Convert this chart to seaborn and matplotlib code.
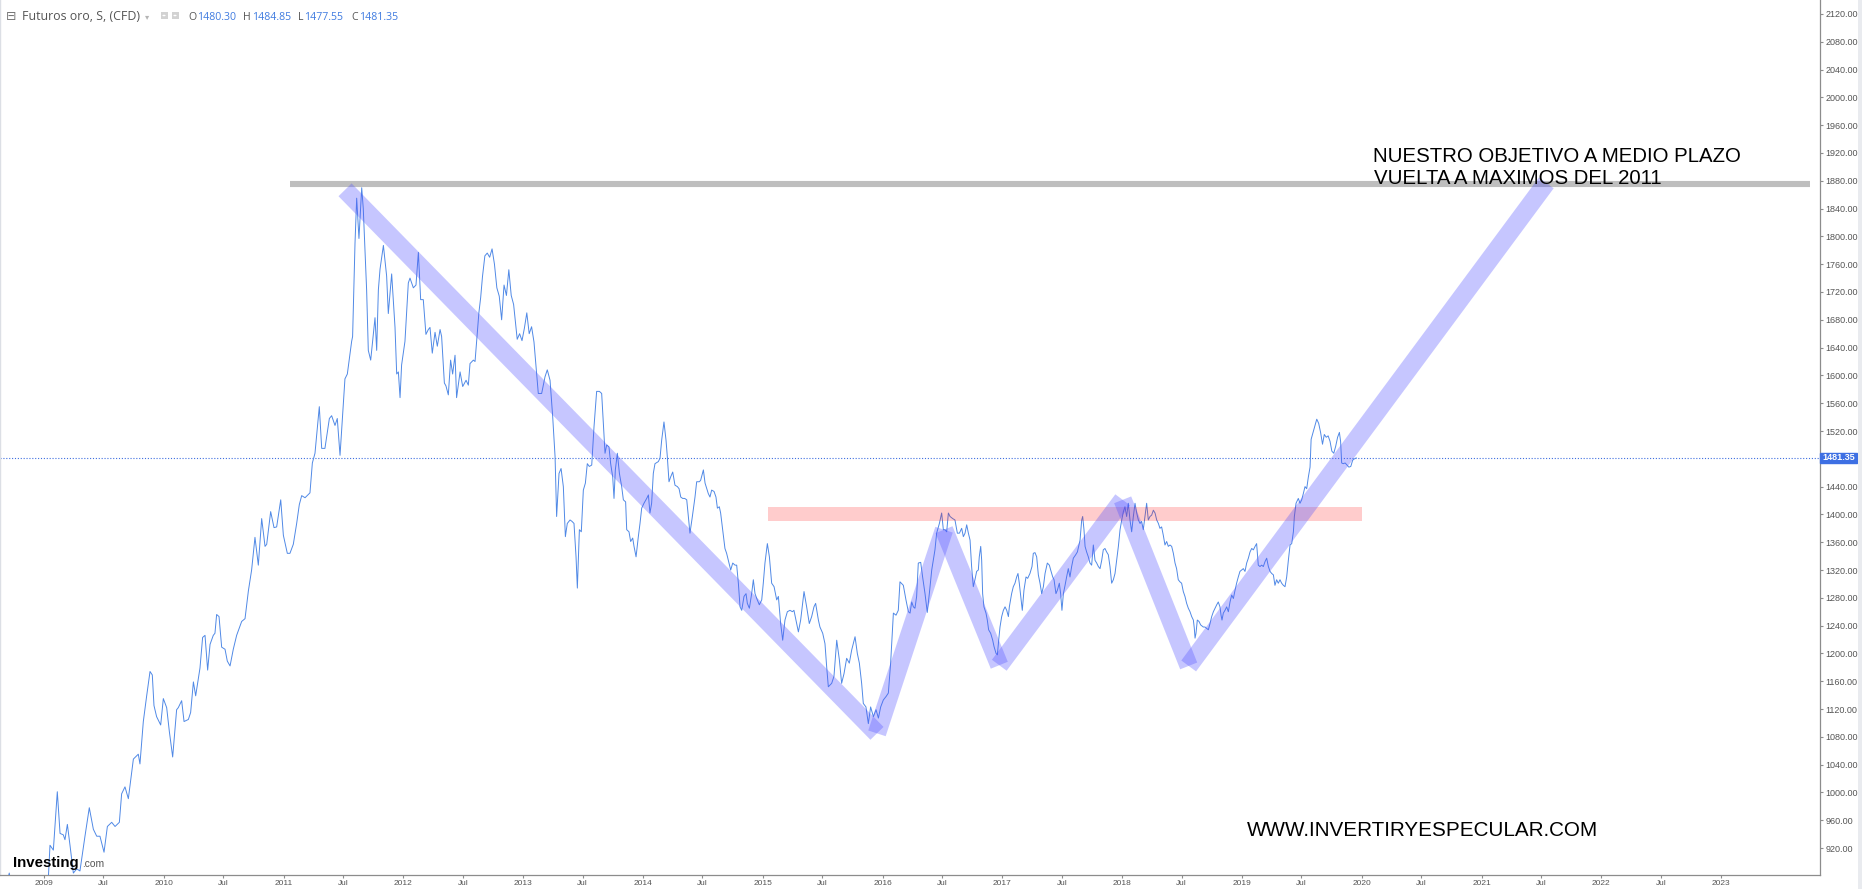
import matplotlib
matplotlib.use("Agg")
import matplotlib.pyplot as plt
import matplotlib.transforms as mtransforms
from matplotlib.patches import Rectangle
import pandas as pd
import seaborn as sns

# ---------------- data (decimal years / price) ----------------
t_2009_2012 = [2008.69, 2008.71, 2008.73, 2008.90, 2009.02, 2009.036, 2009.050, 2009.078, 2009.111, 2009.134,
               2009.161, 2009.175, 2009.195, 2009.217, 2009.245, 2009.273, 2009.300, 2009.342, 2009.378, 2009.412,
               2009.440, 2009.467, 2009.501, 2009.529, 2009.565, 2009.593, 2009.629, 2009.648, 2009.676, 2009.704,
               2009.746, 2009.787, 2009.801, 2009.829, 2009.857, 2009.885, 2009.904, 2009.918, 2009.940, 2009.974,
               2009.996, 2010.024, 2010.046, 2010.074, 2010.107, 2010.121, 2010.149, 2010.169, 2010.205, 2010.224,
               2010.247, 2010.266, 2010.302, 2010.324, 2010.344, 2010.366, 2010.386, 2010.413, 2010.427, 2010.441,
               2010.461, 2010.483, 2010.511, 2010.530, 2010.553, 2010.580, 2010.608, 2010.650, 2010.678, 2010.706,
               2010.733, 2010.761, 2010.789, 2010.817, 2010.845, 2010.859, 2010.892, 2010.920, 2010.942, 2010.976,
               2010.998, 2011.031, 2011.053, 2011.081, 2011.109, 2011.131, 2011.151, 2011.179, 2011.220, 2011.240,
               2011.262, 2011.298, 2011.318, 2011.345, 2011.382, 2011.401, 2011.429, 2011.448, 2011.471, 2011.498,
               2011.512, 2011.532, 2011.568, 2011.576, 2011.596, 2011.610, 2011.629, 2011.652, 2011.665, 2011.693,
               2011.707, 2011.727, 2011.763, 2011.777, 2011.791, 2011.805, 2011.833, 2011.860, 2011.874, 2011.902,
               2011.930, 2011.944, 2011.958, 2011.972, 2011.985, 2012.013, 2012.041, 2012.055, 2012.083, 2012.105,
               2012.125, 2012.144, 2012.166, 2012.188, 2012.208, 2012.222, 2012.241, 2012.264, 2012.283, 2012.306,
               2012.319, 2012.342, 2012.355, 2012.375, 2012.394, 2012.411, 2012.431, 2012.444]
p_2009_2012 = [870, 884, 860, 800, 862, 876, 924, 917, 1001, 941,
               939, 932, 954, 924, 884, 890, 887, 937, 978, 947,
               937, 937, 914, 951, 957, 951, 957, 998, 1008, 991,
               1048, 1055, 1041, 1102, 1139, 1174, 1169, 1125, 1109, 1097,
               1135, 1122, 1088, 1051, 1119, 1122, 1132, 1102, 1105, 1115,
               1159, 1139, 1179, 1223, 1226, 1176, 1213, 1226, 1229, 1256,
               1253, 1209, 1206, 1189, 1182, 1206, 1226, 1246, 1250, 1290,
               1320, 1367, 1327, 1394, 1354, 1357, 1404, 1381, 1382, 1421,
               1370, 1344, 1344, 1357, 1387, 1414, 1427, 1424, 1431, 1474,
               1488, 1555, 1495, 1495, 1538, 1542, 1528, 1538, 1485, 1558,
               1595, 1602, 1649, 1656, 1790, 1855, 1797, 1870, 1840, 1723,
               1636, 1622, 1683, 1636, 1723, 1753, 1787, 1743, 1689, 1746,
               1669, 1602, 1605, 1568, 1615, 1649, 1733, 1740, 1726, 1730,
               1777, 1709, 1709, 1659, 1666, 1669, 1632, 1662, 1642, 1666,
               1656, 1589, 1585, 1572, 1622, 1602, 1629, 1568]

t_2012_2013 = [2012.473, 2012.495, 2012.523, 2012.542, 2012.556, 2012.584, 2012.598, 2012.612,
               2012.630, 2012.645, 2012.660, 2012.680, 2012.700, 2012.720, 2012.740, 2012.760, 2012.780,
               2012.800, 2012.820, 2012.840, 2012.860, 2012.880, 2012.900, 2012.920, 2012.940, 2012.950,
               2012.970, 2012.990, 2013.010, 2013.030, 2013.050, 2013.070, 2013.090]
p_2012_2013 = [1605, 1584, 1593, 1586, 1617, 1622, 1620, 1651,
               1690, 1712, 1742, 1772, 1776, 1770, 1782, 1760, 1726,
               1714, 1680, 1730, 1715, 1752, 1715, 1702, 1668, 1652,
               1660, 1650, 1668, 1690, 1660, 1670, 1648]

t_2013_2016 = [2013.112, 2013.126, 2013.154, 2013.182, 2013.201, 2013.224, 2013.246, 2013.266, 2013.279, 2013.299,
               2013.316, 2013.335, 2013.352, 2013.368, 2013.391, 2013.407, 2013.424, 2013.441, 2013.452, 2013.469,
               2013.485, 2013.502, 2013.519, 2013.535, 2013.552, 2013.572, 2013.591, 2013.613, 2013.636, 2013.655,
               2013.669, 2013.683, 2013.697, 2013.716, 2013.730, 2013.747, 2013.758, 2013.769, 2013.786, 2013.803,
               2013.822, 2013.836, 2013.855, 2013.864, 2013.883, 2013.897, 2013.914, 2013.925, 2013.942, 2013.961,
               2013.975, 2013.989, 2014.008, 2014.031, 2014.045, 2014.058, 2014.072, 2014.086, 2014.100, 2014.128,
               2014.142, 2014.156, 2014.175, 2014.192, 2014.203, 2014.217, 2014.231, 2014.248, 2014.267, 2014.287,
               2014.301, 2014.315, 2014.331, 2014.348, 2014.365, 2014.392, 2014.412, 2014.434, 2014.448, 2014.470,
               2014.481, 2014.504, 2014.518, 2014.532, 2014.545, 2014.559, 2014.573, 2014.593, 2014.609, 2014.621,
               2014.637, 2014.648, 2014.665, 2014.684, 2014.698, 2014.712, 2014.732, 2014.749, 2014.768, 2014.782,
               2014.796, 2014.810, 2014.824, 2014.843, 2014.860, 2014.871, 2014.888, 2014.907, 2014.921, 2014.935,
               2014.954, 2014.971, 2014.991, 2015.004, 2015.018, 2015.038, 2015.055, 2015.074, 2015.094, 2015.116,
               2015.130, 2015.149, 2015.166, 2015.185, 2015.205, 2015.227, 2015.247, 2015.260, 2015.277, 2015.297,
               2015.316, 2015.344, 2015.366, 2015.388, 2015.408, 2015.427, 2015.441, 2015.464, 2015.477, 2015.500,
               2015.519, 2015.533, 2015.547, 2015.575, 2015.594, 2015.617, 2015.639, 2015.658, 2015.678, 2015.700,
               2015.722, 2015.742, 2015.770, 2015.789, 2015.806, 2015.825, 2015.839, 2015.861, 2015.881, 2015.900,
               2015.923, 2015.945, 2015.965, 2015.984, 2016.006, 2016.029, 2016.048, 2016.067, 2016.090, 2016.112,
               2016.131]
p_2013_2016 = [1603, 1574, 1574, 1598, 1608, 1593, 1541, 1483, 1397, 1459,
               1466, 1440, 1368, 1387, 1392, 1390, 1387, 1339, 1294, 1378,
               1375, 1435, 1445, 1473, 1469, 1471, 1526, 1577, 1577, 1574,
               1531, 1488, 1500, 1497, 1473, 1454, 1423, 1464, 1488, 1459,
               1440, 1421, 1418, 1378, 1375, 1361, 1366, 1354, 1339, 1368,
               1387, 1409, 1416, 1423, 1428, 1402, 1416, 1459, 1473, 1476,
               1481, 1507, 1533, 1507, 1483, 1447, 1454, 1461, 1442, 1440,
               1437, 1425, 1423, 1423, 1421, 1373, 1397, 1425, 1447, 1447,
               1449, 1464, 1445, 1437, 1430, 1425, 1435, 1433, 1425, 1409,
               1411, 1402, 1378, 1351, 1344, 1334, 1320, 1330, 1327, 1327,
               1301, 1267, 1262, 1282, 1286, 1272, 1265, 1286, 1306, 1286,
               1277, 1270, 1277, 1301, 1330, 1358, 1339, 1301, 1296, 1277,
               1282, 1243, 1219, 1248, 1260, 1262, 1260, 1262, 1248, 1231,
               1248, 1289, 1267, 1243, 1253, 1267, 1272, 1248, 1238, 1229,
               1214, 1181, 1152, 1157, 1167, 1219, 1191, 1157, 1171, 1193,
               1186, 1205, 1224, 1200, 1186, 1157, 1128, 1123, 1099, 1123,
               1109, 1119, 1107, 1123, 1133, 1138, 1143, 1186, 1258, 1255,
               1262]

t_2016_2019 = [2016.145, 2016.173, 2016.195, 2016.215, 2016.229, 2016.243, 2016.257, 2016.270, 2016.284, 2016.298,
               2016.318, 2016.334, 2016.354, 2016.373, 2016.390, 2016.410, 2016.437, 2016.451, 2016.474, 2016.493,
               2016.507, 2016.521, 2016.535, 2016.549, 2016.563, 2016.585, 2016.604, 2016.624, 2016.641, 2016.660,
               2016.674, 2016.688, 2016.702, 2016.716, 2016.730, 2016.743, 2016.757, 2016.771, 2016.785, 2016.799,
               2016.807, 2016.819, 2016.827, 2016.835, 2016.846, 2016.863, 2016.874, 2016.885, 2016.902, 2016.919,
               2016.930, 2016.947, 2016.958, 2016.969, 2016.980, 2016.994, 2017.008, 2017.022, 2017.036, 2017.050,
               2017.058, 2017.077, 2017.091, 2017.105, 2017.119, 2017.130, 2017.141, 2017.152, 2017.166, 2017.180,
               2017.197, 2017.211, 2017.230, 2017.247, 2017.258, 2017.272, 2017.286, 2017.300, 2017.314, 2017.328,
               2017.342, 2017.356, 2017.375, 2017.392, 2017.403, 2017.420, 2017.431, 2017.447, 2017.459, 2017.475,
               2017.486, 2017.497, 2017.509, 2017.523, 2017.536, 2017.550, 2017.564, 2017.578, 2017.592, 2017.612,
               2017.626, 2017.648, 2017.662, 2017.670, 2017.681, 2017.690, 2017.703, 2017.717, 2017.731, 2017.745,
               2017.759, 2017.773, 2017.787, 2017.801, 2017.815, 2017.829, 2017.842, 2017.856, 2017.870, 2017.884,
               2017.898, 2017.912, 2017.926, 2017.940, 2017.954, 2017.968, 2017.982, 2017.996, 2018.010, 2018.023,
               2018.037, 2018.051, 2018.065, 2018.079, 2018.093, 2018.107, 2018.121, 2018.135, 2018.149, 2018.162,
               2018.176, 2018.190, 2018.204, 2018.218, 2018.232, 2018.246, 2018.260, 2018.274, 2018.288, 2018.302,
               2018.315, 2018.329, 2018.343, 2018.357, 2018.371, 2018.385, 2018.399, 2018.413, 2018.427, 2018.441,
               2018.454, 2018.468, 2018.482, 2018.496, 2018.510, 2018.524, 2018.538, 2018.552, 2018.566, 2018.580,
               2018.594, 2018.602, 2018.608, 2018.616, 2018.627, 2018.641, 2018.655, 2018.677, 2018.691, 2018.705,
               2018.719, 2018.733, 2018.747, 2018.761, 2018.775, 2018.789, 2018.802, 2018.816, 2018.825, 2018.833,
               2018.844, 2018.858, 2018.872, 2018.886, 2018.900, 2018.914, 2018.928, 2018.942, 2018.955, 2018.969,
               2018.983, 2018.997, 2019.011, 2019.025, 2019.039, 2019.053, 2019.067, 2019.081, 2019.095, 2019.109,
               2019.122, 2019.136, 2019.150, 2019.164, 2019.178, 2019.192, 2019.206, 2019.220, 2019.234, 2019.248,
               2019.262, 2019.275, 2019.289, 2019.303, 2019.317, 2019.331, 2019.345, 2019.359, 2019.373, 2019.387,
               2019.401, 2019.415, 2019.429, 2019.437, 2019.451, 2019.470, 2019.484, 2019.498, 2019.512, 2019.526,
               2019.540, 2019.554]
p_2016_2019 = [1303, 1298, 1277, 1260, 1258, 1274, 1267, 1265, 1282, 1330,
               1331, 1310, 1286, 1259, 1286, 1320, 1349, 1373, 1387, 1402,
               1378, 1378, 1375, 1402, 1397, 1394, 1392, 1373, 1373, 1380,
               1368, 1373, 1385, 1373, 1363, 1325, 1296, 1306, 1318, 1320,
               1339, 1354, 1334, 1286, 1267, 1258, 1248, 1234, 1229, 1219,
               1210, 1200, 1198, 1219, 1238, 1253, 1262, 1267, 1262, 1253,
               1267, 1286, 1296, 1301, 1310, 1315, 1301, 1284, 1262, 1291,
               1310, 1308, 1315, 1325, 1344, 1345, 1339, 1313, 1301, 1286,
               1296, 1315, 1330, 1327, 1320, 1310, 1306, 1286, 1291, 1301,
               1286, 1262, 1286, 1298, 1310, 1322, 1310, 1325, 1337, 1342,
               1346, 1363, 1392, 1397, 1378, 1354, 1346, 1339, 1330, 1327,
               1356, 1334, 1330, 1325, 1322, 1334, 1349, 1351, 1346, 1342,
               1325, 1301, 1306, 1315, 1334, 1354, 1378, 1392, 1404, 1411,
               1397, 1416, 1392, 1375, 1397, 1416, 1402, 1392, 1387, 1390,
               1378, 1397, 1416, 1392, 1397, 1399, 1406, 1402, 1392, 1387,
               1380, 1382, 1370, 1356, 1361, 1354, 1356, 1354, 1344, 1330,
               1322, 1306, 1303, 1301, 1289, 1282, 1272, 1265, 1260, 1253,
               1248, 1236, 1222, 1229, 1248, 1246, 1241, 1238, 1238, 1236,
               1234, 1243, 1253, 1260, 1265, 1270, 1274, 1267, 1255, 1248,
               1258, 1262, 1267, 1260, 1274, 1284, 1279, 1291, 1301, 1310,
               1318, 1320, 1322, 1318, 1330, 1337, 1346, 1351, 1349, 1354,
               1358, 1327, 1325, 1327, 1325, 1332, 1337, 1325, 1318, 1315,
               1313, 1298, 1306, 1301, 1306, 1301, 1298, 1296, 1310, 1334,
               1356, 1358, 1375, 1397, 1416, 1423, 1416, 1421, 1430, 1440,
               1437, 1454]

t_2019_fin = [2019.568, 2019.577, 2019.609, 2019.624, 2019.640, 2019.656, 2019.672, 2019.687, 2019.703, 2019.719,
              2019.735, 2019.750, 2019.766, 2019.782, 2019.798, 2019.813, 2019.823, 2019.832, 2019.845, 2019.861,
              2019.876, 2019.892, 2019.908, 2019.924, 2019.939, 2019.955]
p_2019_fin = [1468, 1508, 1528, 1537, 1531, 1518, 1501, 1515, 1511, 1513,
              1505, 1491, 1488, 1498, 1511, 1518, 1505, 1474, 1473, 1474,
              1471, 1468, 1469, 1478, 1480, 1481.35]

ultimo_precio = 1481.35
ohlc_letras = ["O", "H", "L", "C"]
ohlc_valores = ["1480.30", "1484.85", "1477.55", "1481.35"]

# drawn objects (price levels / dates)
maximo_2011 = 1876
maximo_x = [2011.05, 2023.74]
zona_x = [2015.04, 2020.0]
zona_y = [1391, 1410]
tendencia_t = [2011.513, 2015.953, 2016.513, 2016.974, 2018.004, 2018.555, 2021.54]
tendencia_v = [1867, 1085, 1378, 1183, 1421, 1182, 1877]

y_ticks = list(range(920, 2121, 40))
anios = list(range(2009, 2024))

# ---------------- build frame ----------------
fecha = t_2009_2012 + t_2012_2013 + t_2013_2016 + t_2016_2019 + t_2019_fin
precio = p_2009_2012 + p_2012_2013 + p_2013_2016 + p_2016_2019 + p_2019_fin
assert len(fecha) == len(precio)
df = pd.DataFrame({"t": fecha, "precio": precio})

sns.set_theme(style="white")
plt.rcParams["font.family"] = ["Liberation Sans", "DejaVu Sans"]

W, H = 1862, 889
fig = plt.figure(figsize=(W / 100, H / 100), dpi=100)
fig.patch.set_facecolor("white")
ax = fig.add_axes([0, 14 / H, 1820 / W, 875 / H])
ax.set_facecolor("white")


def fx(X):
    return X / W


def fy(Y):
    return 1 - Y / H


sns.lineplot(data=df, x="t", y="precio", ax=ax, color="#5089e6", linewidth=0.7,
             sort=False, estimator=None, zorder=3)

ax.set_xlim(2008.6327, 2023.8247)
ax.set_ylim(881.2, 2140.1)

# last price dotted line
ax.axhline(ultimo_precio, color="#3f6fe0", lw=0.8, ls=(0, (1, 1.6)), zorder=2)

# grey 2011 maximum
ax.plot(maximo_x, [maximo_2011] * 2, color="#bebebe", lw=4.4, solid_capstyle="butt", zorder=4)

# red resistance zone
ax.fill_between(zona_x, [zona_y[0]] * 2, [zona_y[1]] * 2, color="red", alpha=0.2, lw=0, zorder=4)

# blue trend segments
for i in range(len(tendencia_t) - 1):
    ax.plot(tendencia_t[i:i + 2], tendencia_v[i:i + 2], color="#5050ff", alpha=0.32,
            lw=13.2, solid_capstyle="butt", zorder=5)

# axes styling
ax.spines["top"].set_visible(False)
ax.spines["left"].set_color("#dcdfe5")
ax.spines["left"].set_linewidth(1.0)
for s in ["right", "bottom"]:
    ax.spines[s].set_color("#8c8c8c")
    ax.spines[s].set_linewidth(0.9)
ax.set_xlabel("")
ax.set_ylabel("")

ax.yaxis.tick_right()
yt = [v for v in y_ticks if v != 1480]
ax.set_yticks(yt)
ax.set_yticklabels([f"{v:.2f}" for v in yt])
ax.tick_params(axis="y", which="both", direction="out", length=2.5, width=0.8, color="#8c8c8c",
               pad=1.5, labelsize=6.5, labelcolor="#555555", left=False, right=True)

xt, xl = [], []
for a in anios:
    xt.append(a)
    xl.append(str(a))
    if a < 2023:
        xt.append(a + 0.496)
        xl.append("Jul")
ax.set_xticks(xt)
ax.set_xticklabels(xl)
ax.tick_params(axis="x", which="both", direction="out", length=2.5, width=0.8, color="#8c8c8c",
               pad=1.2, labelsize=6, labelcolor="#555555", bottom=True)

# last price label on axis
bt = mtransforms.blended_transform_factory(ax.transAxes, ax.transData)
ax.add_patch(Rectangle((1.0, ultimo_precio - 7.5), 37 / 1820, 15, transform=bt, color="#3d6fe3",
                       clip_on=False, zorder=10))
ax.text(1.0 + 18.5 / 1820, ultimo_precio, f"{ultimo_precio:.2f}", transform=bt, ha="center",
        va="center", fontsize=6.5, color="white", fontweight="bold", zorder=11, clip_on=False)

# right strip
fig.add_artist(Rectangle((fx(1858), 0), 4 / W, 1, transform=fig.transFigure, color="#e9ebef", lw=0))

# header
fig.text(fx(11), fy(19.5), "⊟", ha="center", va="baseline", fontsize=9, color="#777777",
         family="DejaVu Sans")
fig.text(fx(22), fy(19.5), "Futuros oro, S, (CFD)", ha="left", va="baseline", fontsize=8.9,
         color="#555555", family="Open Sans")
fig.text(fx(147), fy(19), "▾", ha="center", va="baseline", fontsize=6, color="#b5b5b5",
         family="DejaVu Sans")
for xx in (160.5, 171.5):
    fig.add_artist(Rectangle((fx(xx), fy(19)), 7 / W, 7 / H, transform=fig.transFigure,
                             color="#d2d2d2", lw=0))
    fig.add_artist(plt.Circle((fx(xx + 3.5), fy(15.5)), 1.6 / W, transform=fig.transFigure,
                              color="white", lw=0))
for letra, valor, xl_, xv_ in zip(ohlc_letras, ohlc_valores, [188, 243, 298, 351], [197, 252, 304, 359]):
    fig.text(fx(xl_), fy(19.5), letra, ha="left", va="baseline", fontsize=7.6, color="#555555",
             family="Open Sans")
    fig.text(fx(xv_), fy(19.5), valor, ha="left", va="baseline", fontsize=7.6, color="#3f7be0",
             family="Open Sans")

# annotations
fig.text(fx(1372.7), fy(162.3), "NUESTRO OBJETIVO A MEDIO PLAZO", ha="left", va="baseline",
         fontsize=14.7, color="black", family="Liberation Sans", zorder=20)
fig.text(fx(1374), fy(184.3), "VUELTA A MAXIMOS DEL 2011", ha="left", va="baseline",
         fontsize=14.7, color="black", family="Liberation Sans", zorder=20)
fig.text(fx(1246.7), fy(835.7), "WWW.INVERTIRYESPECULAR.COM", ha="left", va="baseline",
         fontsize=14.9, color="black", family="Liberation Sans", zorder=20)

# Investing.com logo
fig.text(fx(13), fy(867), "Investing", ha="left", va="baseline", fontsize=10.8, color="black",
         fontweight="bold", family="Liberation Sans", zorder=20)
fig.text(fx(82), fy(867), ".com", ha="left", va="baseline", fontsize=7.4, color="#555555",
         family="Liberation Sans", zorder=20)

fig.savefig("out.png", dpi=100, facecolor="white")
